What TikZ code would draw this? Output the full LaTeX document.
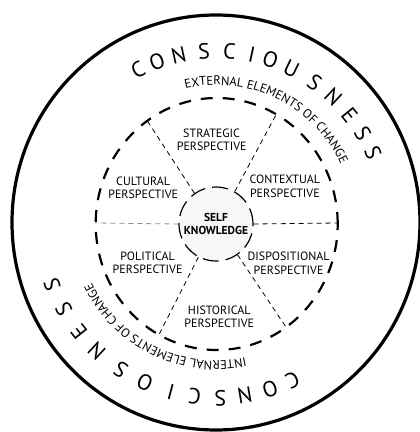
\documentclass[tikz,border=0pt]{standalone}
\usepackage{fontspec}
\setmainfont{PT Sans}
\usepackage{tikz}
\usetikzlibrary{decorations.text}

\begin{document}
\begin{tikzpicture}[x=1pt, y=1pt,
    ring/.style={line width=3.2pt},
    band/.style={line width=2.2pt, dash pattern=on 12pt off 10pt},
    spoke/.style={line width=0.8pt, dash pattern=on 5pt off 4pt},
    core/.style={circle, draw, fill=black!3, line width=1.2pt, dash pattern=on 16pt off 7pt, minimum size=74pt, inner sep=0pt, font=\fontsize{11.5}{12.8}\selectfont\bfseries, align=center},
    persp/.style={font=\fontsize{12}{13.3}\selectfont, align=center},
    bigletter/.style={font=\fontsize{22}{22}\selectfont, inner sep=0pt},
    arclabel/.style={decorate, decoration={text along path, text align=center, text={|\fontsize{12.5}{13}\selectfont|#1}}}
]
    \useasboundingbox (-216,-209) rectangle (204,223);

    % outer ring and dashed band
    \draw[ring] (0,0.5) ellipse [x radius=204, y radius=207.5];
    \draw[band] (0.7,-1) ellipse [x radius=121, y radius=126];

    % centre
    \node[core] (self) at (0,-1) {SELF\\KNOWLEDGE};

    % spokes
    \foreach \a in {0, 60, 125, 242, 305}
        \draw[spoke] (self.\a) -- (\a:121 and 126);
    \draw[spoke, black!45] (self.180) -- (180:121 and 126);

    % perspectives
    \node[persp] (strategic) at (93:83) {STRATEGIC\\PERSPECTIVE};
    \node[persp] (contextual) at (28:78) {CONTEXTUAL\\PERSPECTIVE};
    \node[persp] (cultural) at (154:81) {CULTURAL\\PERSPECTIVE};
    \node[persp] (political) at (210:79) {POLITICAL\\PERSPECTIVE};
    \node[persp] (dispositional) at (-29:83) {DISPOSITIONAL\\PERSPECTIVE};
    \node[persp] (historical) at (-88:94) {HISTORICAL\\PERSPECTIVE};

    % elements of change
    \path[arclabel={EXTERNAL ELEMENTS OF CHANGE}] (114:138) arc[start angle=114, end angle=14, radius=138];
    \path[arclabel={INTERNAL ELEMENTS OF CHANGE}] (-66:138) arc[start angle=-66, end angle=-166, radius=138];

    % consciousness, top and bottom
    \foreach \ch/\a [count=\i] in {C/117, O/110, N/102.5, S/94, C/85.5, I/78, O/71.5, U/64, S/55, N/47, E/39, S/31.5, S/24}
        \node[bigletter, rotate=\a-90] (ctop\i) at (\a:172) {\ch};
    \foreach \ch/\a [count=\i] in {C/-64, O/-72, N/-80.5, S/-88.5, C/-97, I/-105, O/-114, S/-123, N/-133, E/-141.5, S/-150.5, S/-159.5}
        \node[bigletter, rotate=\a-90] (cbot\i) at (\a:175) {\ch};

\end{tikzpicture}
\end{document}
